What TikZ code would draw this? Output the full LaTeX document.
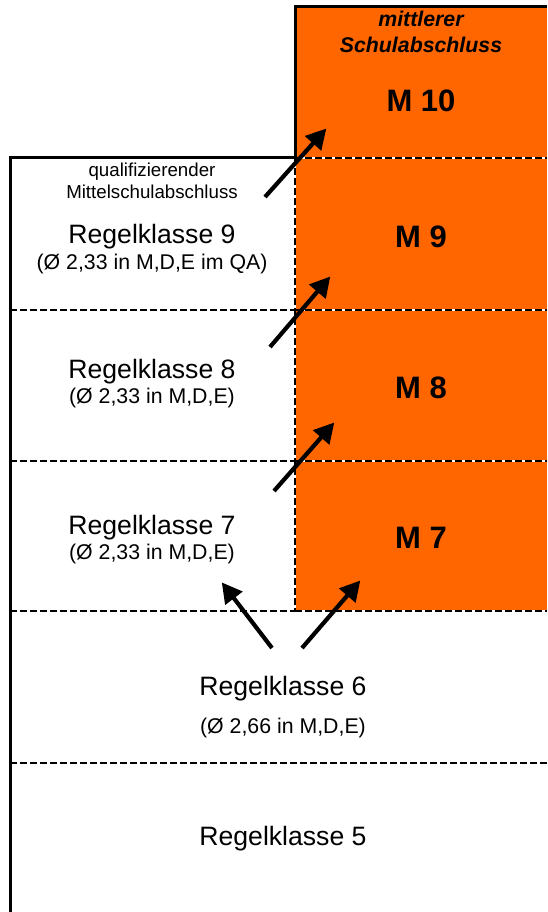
\documentclass[tikz,border=0pt]{standalone}
\usepackage{fontspec}
\setmainfont{Liberation Sans}
\usetikzlibrary{arrows.meta}
\definecolor{mgold}{HTML}{FF6600}
\tikzset{
  frame/.style={line width=3pt},
  sep/.style={line width=2.6pt, dash pattern=on 7pt off 3pt,
    preaction={draw=white, solid, line width=2.6pt}},
  sepw/.style={line width=2.6pt, dash pattern=on 7pt off 3pt},
  lbl/.style={anchor=base, inner sep=0pt, align=center},
  big/.style={lbl, font=\fontsize{26.6}{30}\selectfont},
  mid/.style={lbl, font=\fontsize{21.3}{24}\selectfont},
  small/.style={lbl, font=\fontsize{18.7}{21}\selectfont},
  mlab/.style={lbl, font=\fontsize{31}{34}\selectfont\bfseries},
  head/.style={lbl, font=\fontsize{21.3}{24}\selectfont\bfseries\itshape},
  up/.style={line width=4.2pt, -{Triangle[length=20pt,width=21pt]}, shorten >=-2pt}
}
\begin{document}
\begin{tikzpicture}[x=1pt,y=-1pt]
\useasboundingbox (0,0) rectangle (547,912);

% M-track block
\fill[mgold] (295,7) rectangle (547,611);

% row separators
\draw[sepw] (10,310) -- (295,310);
\draw[sepw] (10,461) -- (295,461);
\draw[sepw] (10,611) -- (295,611);
\draw[sepw] (10,763) -- (547,763);
\draw[sep] (295,158) -- (547,158);
\draw[sep] (295,310) -- (547,310);
\draw[sep] (295,461) -- (547,461);
\draw[sep] (295,611) -- (547,611);
\draw[sep] (295,158) -- (295,611);

% outer frame
\draw[frame] (10,912) -- (10,158) -- (295,158);
\draw[frame] (295,158) -- (295,7) -- (547,7);

% M-track labels
\node[head] (mtitle) at (421,27) {mittlerer};
\node[head] (mtitleb) at (421,53) {Schulabschluss};
\node[mlab] (m10) at (421,112) {M 10};
\node[mlab] (m9) at (421,247) {M 9};
\node[mlab] (m8) at (421,398) {M 8};
\node[mlab] (m7) at (421,548) {M 7};

% regular track labels
\node[small] (qa) at (152,177) {qualifizierender};
\node[small] (qab) at (152,198) {Mittelschulabschluss};
\node[big] (r9) at (152,243) {Regelklasse 9};
\node[mid] (r9n) at (152,269) {(Ø 2,33 in M,D,E im QA)};
\node[big] (r8) at (152,378) {Regelklasse 8};
\node[mid] (r8n) at (152,403) {(Ø 2,33 in M,D,E)};
\node[big] (r7) at (152,534) {Regelklasse 7};
\node[mid] (r7n) at (152,559) {(Ø 2,33 in M,D,E)};
\node[big] (r6) at (283,695) {Regelklasse 6};
\node[mid] (r6n) at (283,733) {(Ø 2,66 in M,D,E)};
\node[big] (r5) at (283,845) {Regelklasse 5};

% transitions
\coordinate (t10a) at (265,197); \coordinate (t10b) at (325,130);
\coordinate (t9a) at (270,347);  \coordinate (t9b) at (329,278);
\coordinate (t8a) at (274,491);  \coordinate (t8b) at (333,424);
\coordinate (t7a) at (302,648);  \coordinate (t7b) at (359,582);
\coordinate (r7a) at (272,648);  \coordinate (r7b) at (223,584);
\draw[up] (t10a) -- (t10b);
\draw[up] (t9a) -- (t9b);
\draw[up] (t8a) -- (t8b);
\draw[up] (t7a) -- (t7b);
\draw[up] (r7a) -- (r7b);
\end{tikzpicture}
\end{document}
